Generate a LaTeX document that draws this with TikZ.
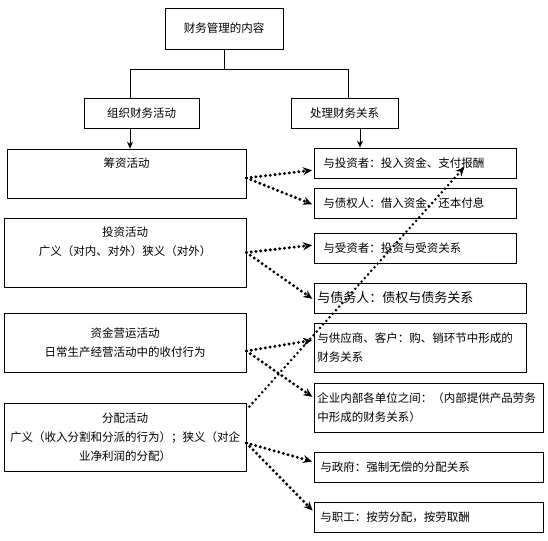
\documentclass[tikz,border=0pt]{standalone}
\usepackage{fontspec}
\newfontfamily\cjk{Noto Sans CJK SC}
\usetikzlibrary{arrows.meta,positioning}

\tikzset{
  box/.style={draw=black, line width=0.8pt, inner sep=0pt,
              font=\cjk\fontsize{11.5}{19}\selectfont},
  rbox/.style={box, anchor=west, align=left, inner xsep=6pt},
  lbl/.style={inner sep=0pt, align=center,
              font=\cjk\fontsize{11.5}{19}\selectfont},
  solid arrow/.style={-{Stealth[length=7pt,width=6pt]}, line width=0.8pt},
  dot arrow/.style={-{Stealth[length=9pt,width=8pt]}, line width=3.3pt,
                    dash pattern=on 0pt off 4.8pt, line cap=round, shorten >=2pt},
}

\begin{document}
\begin{tikzpicture}[x=1pt, y=-1pt]
    \useasboundingbox (0,0) rectangle (548,540);

    % ======== TOP LEVELS ========
    \node[box, minimum width=118, minimum height=41] (top) at (224, 28.5)
      {财务管理的内容};
    \node[box, minimum width=115, minimum height=30] (org) at (141.5, 113)
      {组织财务活动};
    \node[box, minimum width=107, minimum height=30] (rel) at (344.5, 113)
      {处理财务关系};

    \coordinate (forkL) at (130, 69);
    \coordinate (forkR) at (348, 69);
    \draw[line width=0.8pt] (top.south) -- (top.south |- forkL);
    \draw[line width=0.8pt] (org.north -| forkL) |- (forkR) -- (rel.north -| forkR);

    % ======== ACTIVITIES (left) ========
    \node[box, minimum width=239, minimum height=49] (chou) at (126.5, 173.5) {};
    \node[lbl] (chouT) at ([yshift=-15pt]chou.north) {筹资活动};

    \node[box, minimum width=242, minimum height=69] (tou) at (125, 252.5) {};
    \node[lbl] (touT) at ([yshift=-24.5pt]tou.north)
      {投资活动\\广义（对内、对外）狭义（对外）};

    \node[box, align=center, minimum width=242, minimum height=59] (zj)
      at (125, 342.5) {资金营运活动\\日常生产经营活动中的收付行为};

    \node[box, align=center, minimum width=242, minimum height=68] (fp)
      at (125, 437) {分配活动\\广义（收入分割和分派的行为）；狭义（对企\\业净利润的分配）};

    % ======== RELATIONS (right) ========
    \foreach \name/\y/\txt in {inv/163/与投资者：投入资金、支付报酬,
                               cred/203/与债权人：借入资金、还本付息,
                               shou/248/与受资者：投资与受资关系} {
      \node[rbox, text width=184, minimum height=30, inner xsep=9pt] (\name)
        at (314, \y) {\txt};
    }
    \node[rbox, text width=206, minimum height=30, inner xsep=3pt,
          font=\cjk\fontsize{13}{16}\selectfont] (debt) at (314, 298)
      {与债务人：债权与债务关系};
    \node[rbox, text width=206, minimum height=49, inner xsep=3pt] (sup)
      at (314, 347.5) {与供应商、客户：购、销环节中形成的\\财务关系};
    \node[rbox, text width=223, minimum height=49, inner xsep=3pt] (intern)
      at (314, 407.5) {企业内部各单位之间：（内部提供产品劳务\\中形成的财务关系）};
    \node[rbox, text width=217, minimum height=30] (gov) at (314, 467)
      {与政府：强制无偿的分配关系};
    \node[rbox, text width=217, minimum height=30] (emp) at (314, 517)
      {与职工：按劳分配，按劳取酬};

    % ======== SOLID ARROWS ========
    \draw[solid arrow] (org.south -| forkL) -- (chou.north -| forkL);
    \draw[solid arrow] ([xshift=15.5pt]rel.south) -- ([xshift=15.5pt]rel.south |- inv.north);

    % ======== DOTTED ARROWS ========
    \draw[dot arrow] ([yshift=-4.5pt]chou.east) -- ([yshift=-7pt]inv.west);
    \draw[dot arrow] ([yshift=-4.5pt]chou.east) -- ([yshift=-2pt]cred.west);
    \draw[dot arrow] (tou.east) -- ([yshift=3pt]shou.west);
    \draw[dot arrow] (tou.east) -- ([yshift=-2pt]debt.west);
    \draw[dot arrow] ([yshift=-8.5pt]zj.east) -- ([yshift=7.5pt]sup.west);
    \draw[dot arrow] ([yshift=-8.5pt]zj.east) -- ([yshift=9.5pt]intern.west);
    \draw[dot arrow, line width=2.8pt, shorten >=0pt]
      ([xshift=3pt,yshift=-4pt]fp.north east) -- ([xshift=49pt,yshift=-4pt]inv.center);
    \draw[dot arrow] ([yshift=-6pt]fp.east) -- ([yshift=5pt]gov.west);
    \draw[dot arrow] ([yshift=-6pt]fp.east) -- ([yshift=5pt]emp.west);

  \end{tikzpicture}
\end{document}
